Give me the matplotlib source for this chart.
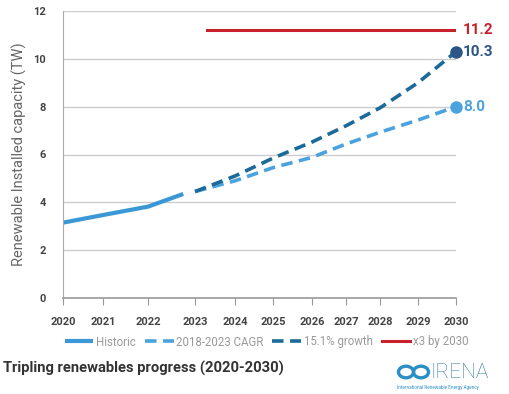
import numpy as np
import matplotlib
matplotlib.use("Agg")
import matplotlib.pyplot as plt
from matplotlib.patches import Circle

plt.rcParams["font.family"] = ["Roboto", "DejaVu Sans"]

# data
hist_years = [2020, 2021, 2022, 2022.75]
hist_vals = [3.15, 3.47, 3.82, 4.35]
proj_years = [2023, 2024, 2025, 2026, 2027, 2028, 2029, 2030]
cagr_vals = [4.45, 4.9, 5.45, 5.88, 6.44, 6.93, 7.44, 8.0]
growth_vals = [4.45, 5.1, 5.85, 6.52, 7.2, 7.95, 9.0, 10.3]
target_years = [2023.3, 2030]
target_vals = [11.2, 11.2]
tick_years = list(range(2020, 2031))
labels = ["Historic", "2018-2023 CAGR", "15.1% growth", "x3 by 2030"]

# the original's year ticks are not evenly spaced; map them through a scale
tick_px = [63, 103, 148, 195, 235, 273, 312, 346, 380, 418, 456]

c_hist = "#3a98d6"
c_cagr = "#4aa3df"
c_growth = "#1b6a9a"
c_dot = "#2c5588"
c_red = "#c9212b"
grey = "#444444"

fig = plt.figure(figsize=(5.1, 3.94), dpi=100)
W, H = 510, 394
ax = fig.add_axes([63 / W, 1 - 298 / H, (456 - 63) / W, (298 - 11) / H])

fwd = lambda x: np.interp(x, tick_years, tick_px)
inv = lambda x: np.interp(x, tick_px, tick_years)
ax.set_xscale("function", functions=(fwd, inv))

ax.plot(hist_years, hist_vals, color=c_hist, lw=3.0, solid_capstyle="butt",
        label=labels[0])
ax.plot(proj_years, cagr_vals, color=c_cagr, lw=2.6, dashes=(3.2, 1.8),
        label=labels[1])
ax.plot(proj_years, growth_vals, color=c_growth, lw=2.6, dashes=(3.2, 1.8),
        label=labels[2])
ax.plot(target_years, target_vals, color=c_red, lw=2.2, label=labels[3])

ax.plot(proj_years[-1], growth_vals[-1], "o", color=c_dot, ms=8, zorder=5,
        clip_on=False)
ax.plot(proj_years[-1], cagr_vals[-1], "o", color=c_cagr, ms=8, zorder=5,
        clip_on=False)
for x, v, c in [(target_years[-1], target_vals[-1], c_red),
                (proj_years[-1], growth_vals[-1], c_dot),
                (proj_years[-1], cagr_vals[-1], c_cagr)]:
    ax.annotate(f"{v:.1f}", (x, v), xytext=(5, 0), textcoords="offset points",
                va="center", color=c, fontsize=11, fontweight="bold",
                annotation_clip=False)

ax.set_xlim(2020, 2030)
ax.set_ylim(0, 12)
ax.set_yticks(range(0, 13, 2))
ax.set_xticks(tick_years)
ax.set_xticklabels([str(y) for y in tick_years])
ax.grid(axis="y", color="#cccccc", lw=1.0)
ax.set_axisbelow(True)
for s in ["top", "right"]:
    ax.spines[s].set_visible(False)
ax.spines["left"].set_color("#aaaaaa")
ax.spines["bottom"].set_color("#999999")
ax.spines["bottom"].set_linewidth(1.2)
ax.tick_params(axis="y", length=0, pad=12, labelsize=8, labelcolor=grey)
ax.tick_params(axis="x", length=5, color="#999999", pad=9, labelsize=8,
               labelcolor=grey)
for t in ax.get_xticklabels() + ax.get_yticklabels():
    t.set_fontweight("bold")
ax.set_ylabel("Renewable Installed capacity (TW)", fontsize=10.5,
              color="#666666", labelpad=5)

fig.legend(loc="center left", bbox_to_anchor=(60 / W, 1 - 342 / H), ncol=4,
           frameon=False, fontsize=8.3, labelcolor="#9a9a9a", handlelength=2.5,
           handletextpad=0.2, columnspacing=0.8, borderaxespad=0)

fig.text(3 / W, 1 - 368 / H, "Tripling renewables progress (2020-2030)",
         fontsize=10.6, fontweight="bold", color="#333333", va="center")

# IRENA mark
lc = "#2a8fc4"
for cx in (406, 421):
    fig.patches.append(Circle((cx / W, 1 - 372 / H), 7.5 / W, transform=fig.transFigure,
                              fill=False, ec=lc, lw=2.4))
fig.text(431 / W, 1 - 372 / H, "IRENA", fontsize=15, color="#3a7ea8",
         va="center", fontweight="light")
fig.text(397 / W, 1 - 387 / H, "International Renewable Energy Agency",
         fontsize=3.3, color=lc, va="center")

fig.savefig("out.png", dpi=100)
